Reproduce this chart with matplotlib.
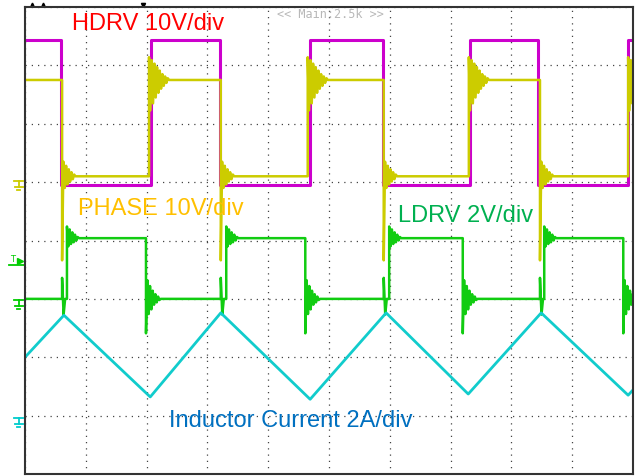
import matplotlib.pyplot as plt

# scope screen: 10 horizontal x 8 vertical divisions
hdrv_edges = [0.59, 2.07, 3.21, 4.69, 5.89, 7.32, 8.44, 9.92]
hdrv_levels = (7.43, 4.95)          # high, low (div)

phase_edges = [0.61, 2.04, 3.22, 4.65, 5.90, 7.30, 8.47, 9.92]
phase_levels = (6.75, 5.10)
phase_rise_ring = [0.39, -0.52, 0.34, -0.40, 0.28, -0.30, 0.22, -0.22,
                   0.16, -0.15, 0.10, -0.10, 0.06, -0.05, 0.03, 0.0]
phase_fall_ring = [-1.44, 0.25, -0.20, 0.18, -0.14, 0.12, -0.09, 0.07,
                   -0.05, 0.03, 0.0]

ldrv_edges = [0.69, 1.99, 3.31, 4.61, 5.99, 7.20, 8.54, 9.84]
ldrv_levels = (4.04, 3.00)
ldrv_rise_ring = [0.20, -0.14, 0.15, -0.10, 0.10, -0.07, 0.06, -0.04, 0.02, 0.0]
ldrv_fall_ring = [-0.59, 0.32, -0.26, 0.22, -0.18, 0.14, -0.10, 0.08,
                  -0.06, 0.04, -0.02, 0.0]
ldrv_glitch = [0.36, -0.27, 0.0]    # coupling from PHASE falling edge

il_x = [0.0, 0.64, 2.06, 3.22, 4.69, 5.94, 7.29, 8.49, 9.92, 10.0]
il_y = [2.00, 2.72, 1.32, 2.76, 1.28, 2.76, 1.37, 2.76, 1.35, 1.44]

ground_marks = [(5.02, "#cccc00"), (2.98, "#00cc00"), (0.96, "#00cccc")]
trigger_level = 3.60
trigger_pos = 1.94


def trace(edges, levels, start_high, rise=(0.0,), fall=(0.0,),
          glitch_at=(), glitch=(0.0,), dt=0.022, gdt=0.025):
    hi, lo = levels
    state = start_high
    events = sorted([(e, "edge") for e in edges] + [(g, "glitch") for g in glitch_at])
    xs, ys = [0.0], [hi if state else lo]
    for t, kind in events:
        base = hi if state else lo
        xs.append(t)
        ys.append(base)
        if kind == "edge":
            state = not state
            base = hi if state else lo
            offs, step = (rise if state else fall), dt
        else:
            offs, step = glitch, gdt
        for k, a in enumerate(offs):
            xs.append(t + k * step)
            ys.append(base + a)
    xs.append(10.0)
    ys.append(hi if state else lo)
    return xs, ys


def ground(ax, y, color):
    tr = ax.get_yaxis_transform()
    kw = dict(color=color, lw=1.3, transform=tr, clip_on=False)
    ax.plot([-0.018, -0.003], [y, y], **kw)
    ax.plot([-0.0105, -0.0105], [y, y - 0.10], **kw)
    ax.plot([-0.017, -0.004], [y - 0.10, y - 0.10], **kw)
    ax.plot([-0.013, -0.008], [y - 0.16, y - 0.16], **kw)


fig = plt.figure(figsize=(6.41, 4.76), dpi=100)
ax = fig.add_axes([25 / 641, 2 / 476, 608 / 641, 467 / 476])
ax.set_xlim(0, 10)
ax.set_ylim(0, 8)
ax.set_xticks(range(11))
ax.set_yticks(range(9))
ax.tick_params(length=0, labelbottom=False, labelleft=False)
ax.grid(True, color="#444444", lw=0.9, linestyle=(0, (1, 4)))
for s in ax.spines.values():
    s.set_color("#333333")
    s.set_linewidth(1.5)

x, y = trace(hdrv_edges, hdrv_levels, True)
ax.plot(x, y, color="#cc00cc", lw=2.2)
x, y = trace(phase_edges, phase_levels, True, phase_rise_ring, phase_fall_ring)
ax.plot(x, y, color="#cccc00", lw=1.8)
x, y = trace(ldrv_edges, ldrv_levels, False, ldrv_rise_ring, ldrv_fall_ring,
             glitch_at=phase_edges[0::2], glitch=ldrv_glitch)
ax.plot(x, y, color="#11cc11", lw=1.8)
ax.plot(il_x, il_y, color="#11cccc", lw=2.0)

for lvl, c in ground_marks:
    ground(ax, lvl, c)
tr = ax.get_yaxis_transform()
ax.plot([-0.026, 0.0], [trigger_level - 0.02] * 2, color="#00cc00", lw=1.3,
        transform=tr, clip_on=False)
ax.text(-0.021, trigger_level, "T", color="#00cc00", fontsize=6, ha="center",
        va="bottom", transform=tr, clip_on=False, family="DejaVu Sans")
ax.plot([-0.008], [trigger_level + 0.05], marker=">", ms=4, color="#00cc00",
        transform=tr, clip_on=False)
ax.plot([trigger_pos], [8.04], marker="v", ms=3, color="black", clip_on=False)
ax.plot([0.12, 0.29], [8.05, 8.05], ls="none", marker="^", ms=2,
        color="black", clip_on=False)

lab = dict(family="Liberation Sans", fontsize=17, va="baseline", ha="left")
ax.text(0.77, 7.60, "HDRV 10V/div", color="#ff0000", **lab)
ax.text(0.87, 4.43, "PHASE 10V/div", color="#ffc000", **lab)
ax.text(6.13, 4.32, "LDRV 2V/div", color="#00b050", **lab)
ax.text(2.37, 0.80, "Inductor Current 2A/div", color="#0070c0", **lab)
ax.text(4.14, 7.88, "<< Main:2.5k >>", color="#b8b8b8", family="DejaVu Sans Mono",
        fontsize=8.5, va="center", ha="left")

fig.savefig("out.png", dpi=100)
